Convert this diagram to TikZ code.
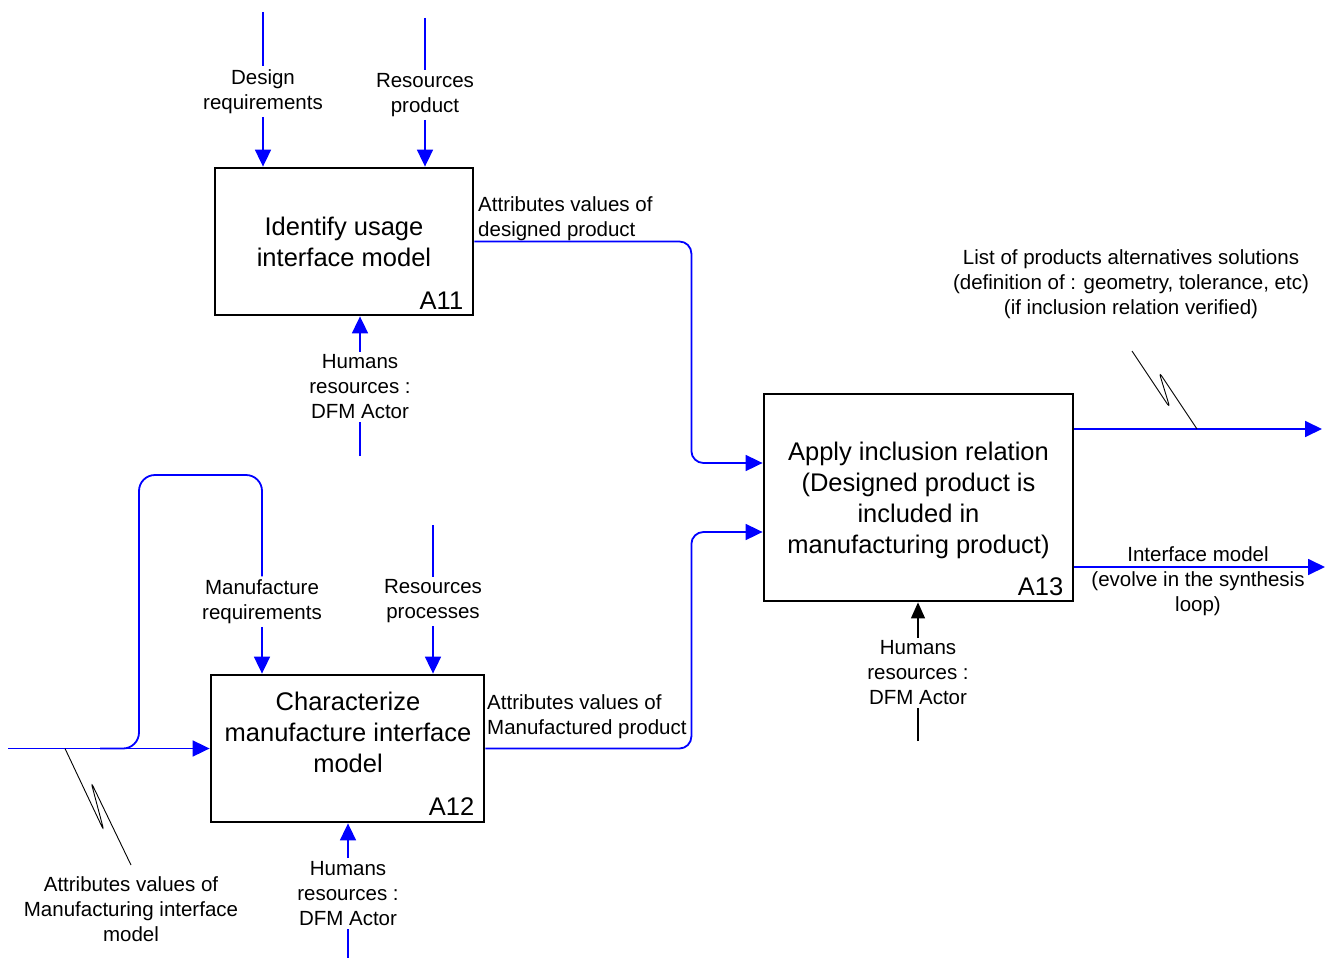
\documentclass[tikz,border=0pt]{standalone}
\usepackage{fontspec}
\setmainfont{Liberation Sans}
\usetikzlibrary{arrows.meta,positioning}

\begin{document}
\begin{tikzpicture}[x=1pt,y=-1pt,
        box/.style={draw,line width=2.8pt,inner sep=0pt,minimum height=147pt},
        boxtext/.style={align=center,font=\fontsize{25.5}{31}\selectfont},
        code/.style={anchor=base east,inner sep=0pt,font=\fontsize{25.5}{31}\selectfont},
        lbl/.style={align=center,inner sep=3pt,font=\fontsize{20.5}{25}\selectfont},
        feed/.style={blue,line width=1.8pt},
        flow/.style={feed,-{Triangle[length=17pt,width=16pt]}},
        zig/.style={black,line width=0.9pt,rounded corners=5pt}]

            \useasboundingbox (0,0) rectangle (1331,958);

            % Coordinates
            \coordinate (dreqtop) at (263,12);
            \coordinate (rprodtop) at (425,18);
            \coordinate (mech11bot) at (360,456);
            \coordinate (in12) at (8,748.5);
            \coordinate (rproctop) at (433,525);
            \coordinate (mech12bot) at (348,958);
            \coordinate (mech13bot) at (918,741);
            \coordinate (out13a) at (1322,429);
            \coordinate (out13b) at (1325,567);

            % Boxes
            \node[box,minimum width=258pt] (A11) at (344,241.5) {};
            \node[box,minimum width=273pt] (A12) at (347.5,748.5) {};
            \node[box,minimum width=309pt,minimum height=207pt] (A13) at (918.5,497.5) {};

            \node[boxtext] (A11text) at (344,241.5) {Identify usage\\interface model};
            \node[boxtext] (A12text) at (348,732) {Characterize\\manufacture interface\\model};
            \node[boxtext] (A13text) at (918.5,500) {Apply inclusion relation\\(Designed product is\\included in\\manufacturing product)};

            \node[code] (A11code) at ([xshift=-11pt,yshift=7pt]A11.south east) {A11};
            \node[code] (A12code) at ([xshift=-11pt,yshift=8pt]A12.south east) {A12};
            \node[code] (A13code) at ([xshift=-11pt,yshift=7pt]A13.south east) {A13};

            % Labels
            \node[lbl] (dreq) at (263,91.5) {Design\\requirements};
            \node[lbl] (rprod) at (425,95) {Resources\\product};
            \node[lbl] (mech11) at (360,387) {Humans\\resources :\\DFM Actor};
            \node[lbl,align=left,anchor=west] (att11) at (475,218.5) {Attributes values of\\designed product};
            \node[lbl] (mreq) at (262,601.5) {Manufacture\\requirements};
            \node[lbl] (rproc) at (433,601.5) {Resources\\processes};
            \node[lbl,align=left,anchor=west] (att12) at (484,716.5) {Attributes values of\\Manufactured product};
            \node[lbl] (mech12) at (348,893.5) {Humans\\resources :\\DFM Actor};
            \node[lbl] (in12lbl) at (131,909) {Attributes values of\\Manufacturing interface\\model};
            \node[lbl] (mech13) at (918,673) {Humans\\resources :\\DFM Actor};
            \node[lbl] (out13albl) at (1131,284) {List of products alternatives solutions\\(definition of : geometry, tolerance, etc)\\(if inclusion relation verified)};
            \node[lbl] (out13blbl) at (1198,581) {Interface model\\(evolve in the synthesis\\loop)};

            % Controls and resources of A11
            \draw[feed] (dreqtop) -- (dreq);
            \draw[flow] (dreq) -- (dreq |- A11.north);
            \draw[feed] (rprodtop) -- (rprod);
            \draw[flow] (rprod) -- (rprod |- A11.north);
            \draw[feed] (mech11bot) -- (mech11);
            \draw[flow] (mech11) -- (mech11 |- A11.south);

            % Controls and resources of A12
            \draw[feed,rounded corners=16pt] (100,748.5) -- (139,748.5) -- (139,475) -- (262,475) -- (mreq);
            \draw[flow] (mreq) -- (mreq |- A12.north);
            \draw[feed] (rproctop) -- (rproc);
            \draw[flow] (rproc) -- (rproc |- A12.north);
            \draw[feed] (mech12bot) -- (mech12);
            \draw[flow] (mech12) -- (mech12 |- A12.south);
            \draw[flow] (in12) -- (A12.west);

            % Outputs into A13
            \draw[flow,rounded corners=12pt] (A11.east) -- ++(217,0) |- ([yshift=34.5pt]A13.west);
            \draw[flow,rounded corners=12pt] (A12.east) -- ++(206,0) |- ([yshift=-34.5pt]A13.west);
            \draw[line width=1.2pt] (mech13bot) -- (mech13);
            \draw[line width=1.2pt,-{Triangle[length=16pt,width=14pt]}] (mech13) -- (mech13 |- A13.south);

            % Outputs of A13
            \draw[flow] (A13.east |- out13a) -- (out13a);
            \draw[flow] (A13.east |- out13b) -- (out13b);

            % Squiggles
            \draw[zig] (1197,429) -- (1159,372) -- (1170,408) -- (1132,351);
            \draw[zig] (65,748.5) -- (104,831) -- (91,782) -- (131,865);

\end{tikzpicture}
\end{document}
